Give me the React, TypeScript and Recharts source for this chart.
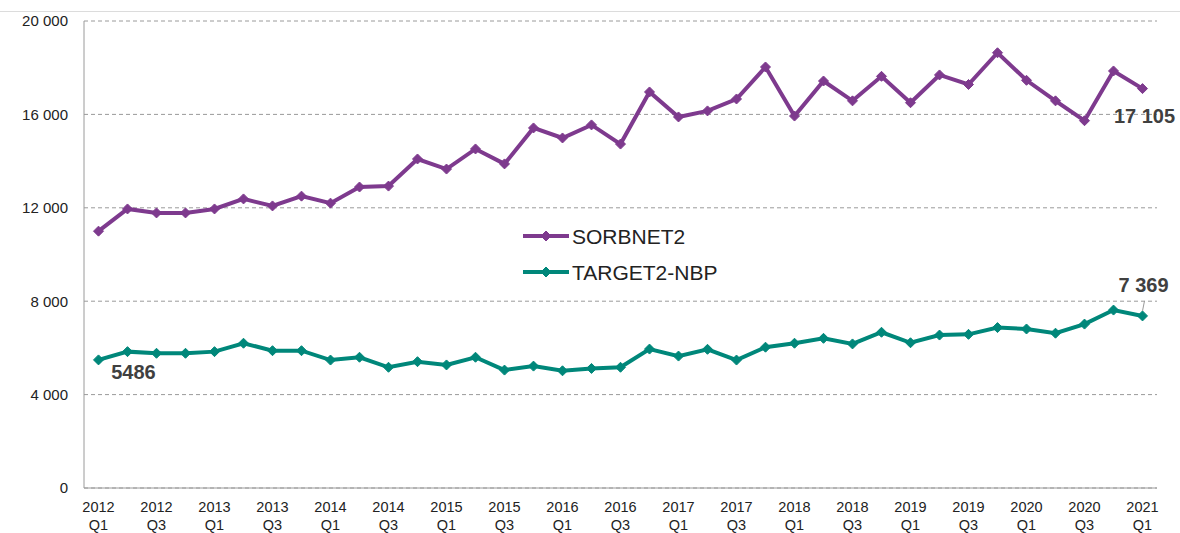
import React from 'react';
import { CartesianGrid, Line, LineChart, XAxis, YAxis } from 'recharts';

const quarters = [
    '2012 Q1', '2012 Q2', '2012 Q3', '2012 Q4',
    '2013 Q1', '2013 Q2', '2013 Q3', '2013 Q4',
    '2014 Q1', '2014 Q2', '2014 Q3', '2014 Q4',
    '2015 Q1', '2015 Q2', '2015 Q3', '2015 Q4',
    '2016 Q1', '2016 Q2', '2016 Q3', '2016 Q4',
    '2017 Q1', '2017 Q2', '2017 Q3', '2017 Q4',
    '2018 Q1', '2018 Q2', '2018 Q3', '2018 Q4',
    '2019 Q1', '2019 Q2', '2019 Q3', '2019 Q4',
    '2020 Q1', '2020 Q2', '2020 Q3', '2020 Q4',
    '2021 Q1',
];

const sorbnet2 = [
    11000, 11950, 11780, 11780, 11950, 12380, 12080, 12500, 12200, 12890, 12930, 14090,
    13660, 14520, 13880, 15420, 14990, 15550, 14730, 16960, 15890, 16150, 16660, 18030,
    15930, 17430, 16580, 17630, 16500, 17690, 17280, 18640, 17460, 16580, 15730, 17860,
    17105,
];

const target2 = [
    5486, 5840, 5770, 5770, 5840, 6200, 5880, 5880, 5480, 5600, 5170, 5410,
    5270, 5600, 5050, 5220, 5020, 5120, 5170, 5950, 5650, 5940, 5480, 6030,
    6200, 6410, 6170, 6670, 6220, 6550, 6580, 6870, 6810, 6630, 7020, 7620,
    7369,
];

const yTicks = [0, 4000, 8000, 12000, 16000, 20000];

const PURPLE = '#7E3A8E';
const TEAL = '#00877A';
const FONT = 'Liberation Sans, Arial, sans-serif';

const data = quarters.map((q, i) => ({ q, sorbnet: sorbnet2[i], target: target2[i] }));

const fmt = (v: number) => String(v).replace(/\B(?=(\d{3})+(?!\d))/g, ' ');

const Diamond = ({ cx, cy, color }: any) => {
    if (cx == null || cy == null) return null;
    const r = 5;
    return (
        <polygon
            points={`${cx},${cy - r} ${cx + r},${cy} ${cx},${cy + r} ${cx - r},${cy}`}
            fill={color}
            stroke={color}
            strokeWidth={1}
        />
    );
};

const QuarterTick = ({ x, y, payload }: any) => {
    const [year, qt] = String(payload.value).split(' ');
    return (
        <text x={x} y={y} textAnchor="middle" fontSize={14.5} fill="#222" fontFamily={FONT}>
            <tspan x={x} dy={16}>{year}</tspan>
            <tspan x={x} dy={18}>{qt}</tspan>
        </text>
    );
};

const labelStyle = { fontSize: 20, fontWeight: 700, fill: '#404040', fontFamily: FONT };

const lastIdx = quarters.length - 1;

const SorbnetLabel = ({ x, y, index }: any) => {
    if (index !== lastIdx) return null;
    return (
        <text x={x + 2} y={y + 34} textAnchor="middle" {...labelStyle}>{fmt(sorbnet2[index])}</text>
    );
};

const TargetLabel = ({ x, y, index }: any) => {
    if (index === 0) {
        return <text x={x + 35} y={y + 19} textAnchor="middle" {...labelStyle}>{String(target2[index])}</text>;
    }
    if (index === lastIdx) {
        return (
            <g>
                <line x1={x + 2} y1={y - 15} x2={x} y2={y - 5} stroke="#999" strokeWidth={1} />
                <text x={x + 1} y={y - 24} textAnchor="middle" {...labelStyle}>{fmt(target2[index])}</text>
            </g>
        );
    }
    return null;
};

const LegendBox = () => {
    const items = [
        { name: 'SORBNET2', color: PURPLE },
        { name: 'TARGET2-NBP', color: TEAL },
    ];
    return (
        <svg width={260} height={80} style={{ position: 'absolute', left: 521, top: 224 }}>
            {items.map((it, i) => {
                const cy = 12 + i * 36;
                return (
                    <g key={it.name}>
                        <line x1={2} y1={cy} x2={48} y2={cy} stroke={it.color} strokeWidth={4} />
                        <Diamond cx={25} cy={cy} color={it.color} />
                        <text x={51} y={cy + 7.5} fontSize={21} fill="#222" fontFamily={FONT}>{it.name}</text>
                    </g>
                );
            })}
        </svg>
    );
};

export default function App() {
    return (
        <div style={{ position: 'absolute', left: 0, top: 0, width: 1180, height: 533, background: '#fff', overflow: 'hidden' }}>
            <div style={{ position: 'absolute', left: 0, top: 11, width: 1180, height: 1, background: '#dcdcdc' }} />
            <LineChart width={1180} height={533} data={data} margin={{ top: 21, right: 23, bottom: 0, left: 10 }}>
                <CartesianGrid vertical={false} stroke="#9a9a9a" strokeDasharray="4 3" />
                <XAxis
                    dataKey="q"
                    interval={1}
                    height={45}
                    tick={<QuarterTick />}
                    tickLine={false}
                    axisLine={{ stroke: '#9a9a9a' }}
                    padding={{ left: 14.5, right: 14.5 }}
                />
                <YAxis
                    domain={[0, 20000]}
                    ticks={yTicks}
                    width={74}
                    tickLine={false}
                    tickSize={0}
                    tickMargin={16}
                    tickFormatter={fmt}
                    axisLine={{ stroke: '#9a9a9a' }}
                    tick={{ fontSize: 15, fill: '#222', fontFamily: FONT }}
                />
                <Line
                    type="linear"
                    dataKey="sorbnet"
                    name="SORBNET2"
                    stroke={PURPLE}
                    strokeWidth={4}
                    dot={(p: any) => <Diamond key={`s${p.index}`} cx={p.cx} cy={p.cy} color={PURPLE} />}
                    activeDot={false}
                    label={<SorbnetLabel />}
                    isAnimationActive={false}
                />
                <Line
                    type="linear"
                    dataKey="target"
                    name="TARGET2-NBP"
                    stroke={TEAL}
                    strokeWidth={4}
                    dot={(p: any) => <Diamond key={`t${p.index}`} cx={p.cx} cy={p.cy} color={TEAL} />}
                    activeDot={false}
                    label={<TargetLabel />}
                    isAnimationActive={false}
                />
            </LineChart>
            <LegendBox />
        </div>
    );
}
